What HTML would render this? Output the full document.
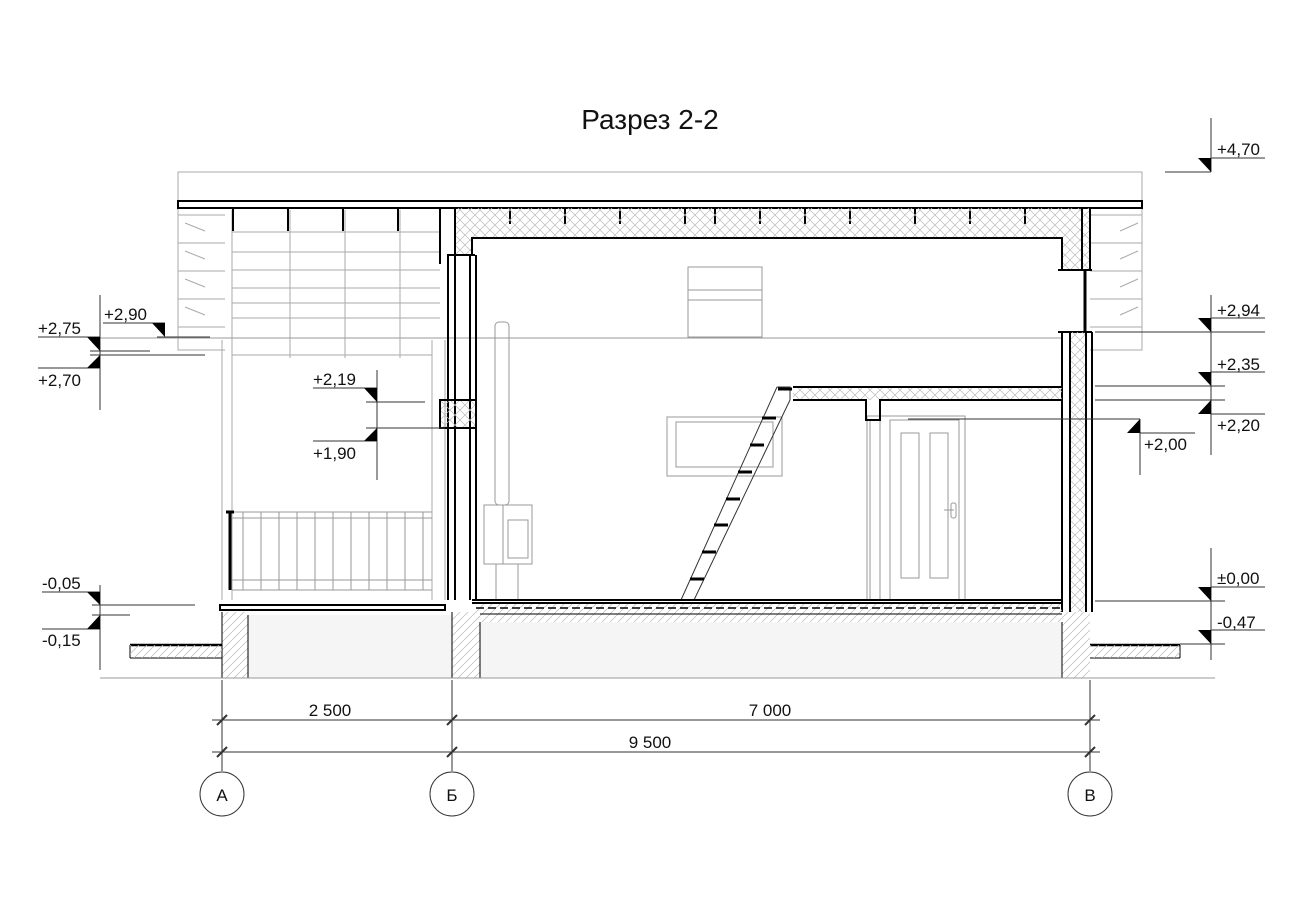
<!DOCTYPE html>
<html><head><meta charset="utf-8"><style>
html,body{margin:0;padding:0;background:#fff;}
svg{display:block}
text{font-family:"Liberation Sans",sans-serif;fill:#111}
</style></head><body>
<svg width="1300" height="919" viewBox="0 0 1300 919" xmlns="http://www.w3.org/2000/svg">
<defs>
<pattern id="ins" width="10" height="10" patternUnits="userSpaceOnUse">
<path d="M0 0L10 10M10 0L0 10" stroke="#bbb" stroke-width="0.7"/>
</pattern>
<pattern id="diag" width="8" height="8" patternUnits="userSpaceOnUse">
<path d="M0 8L8 0" stroke="#bbb" stroke-width="0.7"/>
</pattern>
</defs>

<text x="650" y="129" font-size="28" text-anchor="middle">Разрез 2-2</text>

<g stroke="#aaa" stroke-width="1" fill="none">
<path d="M178 200V172H1142V200"/>
<path d="M178 208V350H225M1142 208V350H1090"/>
<path d="M178 215H225M178 243H225M178 271H225M178 299H225M178 327H225"/>
<path d="M1090 215H1142M1090 243H1142M1090 271H1142M1090 299H1142M1090 327H1142"/>
<path d="M185 223l20 8M185 251l20 8M185 279l20 8M185 307l20 8M1120 231l18-8M1120 259l18-8M1120 287l18-8M1120 315l18-8"/>
<path d="M232 232H440M232 252H440M232 270H440M232 288H440M232 303H440M232 318H440"/>
<path d="M232 210V600M222 340V600M290 210V338M345 210V338M400 210V338"/>
<path d="M432 340V600M445 340V600"/>
<path d="M100 338H1062" stroke="#999"/>
<path d="M232 355H432"/>
<path d="M290 338v20M345 338v20M400 338v20"/>
</g>
<rect x="178" y="201" width="964" height="7" fill="#fff" stroke="#000" stroke-width="2"/>
<g stroke="#000" stroke-width="2" fill="none">
<path d="M233 209v22M288 209v22M343 209v22M398 209v22M440 209v55"/>
<path d="M510 209v15M565 209v15M620 209v15M685 209v15M715 209v15M760 209v15M805 209v15M850 209v15M915 209v15M970 209v15M1025 209v15"/>
</g>
<path d="M447 208H1090V270H1062V238H472V255H455V208Z" fill="url(#ins)"/>
<g stroke="#000" stroke-width="2" fill="none">
<path d="M455 208V255M472 255V238H1062V270"/>
<path d="M1082 208V270M1090 208V270"/>
<path d="M447 255H475M1058 270H1092M1058 332H1092"/>
</g>
<g stroke="#000" stroke-width="2" fill="none">
<path d="M448 255V600M455 255V600M470 255V600M476 255V600"/>
<rect x="440" y="400" width="36" height="28" fill="url(#ins)"/>
</g>
<rect x="1070" y="332" width="16" height="280" fill="url(#ins)"/>
<g stroke="#000" stroke-width="2" fill="none">
<path d="M1062 332V612M1070 332V612M1086 332V612M1092 332V612"/>
<path d="M1085 270V332" stroke-width="3"/>
</g>
<g stroke="#999" fill="none">
<rect x="688" y="267" width="74" height="70"/>
<path d="M688 290H762M688 300H762"/>
<rect x="667" y="417" width="115" height="59"/>
<rect x="676" y="422" width="97" height="45"/>
<rect x="495" y="322" width="14" height="183" rx="4"/>
<rect x="484" y="505" width="48" height="59"/>
<path d="M503 505V564"/>
<rect x="508" y="520" width="20" height="38"/>
<path d="M496 564V600M518 564V600"/>
<rect x="867" y="416" width="98" height="184"/>
<rect x="870" y="420" width="10" height="180"/>
<rect x="890" y="420" width="69" height="180"/>
<rect x="901" y="433" width="18" height="145"/>
<rect x="930" y="433" width="18" height="145"/>
<rect x="951" y="503" width="5" height="15" rx="2"/>
<path d="M944 510H954"/>
<path d="M232 512H432M232 518H432M232 590H432M232 580H432"/>
<path d="M243 512V590M261 512V590M279 512V590M297 512V590M315 512V590M333 512V590M351 512V590M369 512V590M387 512V590M405 512V590M423 512V590"/>
</g>
<path d="M226 512h8M230 512V590" stroke="#000" stroke-width="3" fill="none"/>
<g stroke="#333" fill="none">
<path d="M681 600L777 387M694 600L790 400M777 387H790V400"/>
</g>
<g stroke="#000" stroke-width="3">
<path d="M690 579h14M702 552h14M714 525h14M726 499h14M738 472h14M750 445h14M762 418h14M778 389h14"/>
</g>
<rect x="793" y="387" width="269" height="13" fill="url(#ins)"/>
<g stroke="#000" stroke-width="2" fill="none">
<path d="M793 387H1062M793 400H866V420H880V400H1062"/>
</g>
<rect x="476" y="603" width="586" height="19" fill="url(#diag)"/>
<g stroke="#000" fill="none">
<path d="M472 600H1062M472 603H1062" stroke-width="2"/>
<path d="M476 608H1062" stroke-dasharray="8 4" stroke-width="1.5"/>
<path d="M480 614H1062"/>
</g>
<rect x="480" y="622" width="582" height="56" fill="#f5f5f5"/>
<rect x="452" y="612" width="28" height="66" fill="url(#diag)"/>
<rect x="1062" y="612" width="28" height="66" fill="url(#diag)"/>
<rect x="248" y="615" width="204" height="63" fill="#f5f5f5"/>
<rect x="222" y="612" width="26" height="66" fill="url(#diag)"/>
<g stroke="#000" fill="none" stroke-width="1">
<path d="M480 622V678H1062V622M452 612V678M248 615V678M222 612V678"/>
<rect x="220" y="605" width="225" height="5" stroke-width="2" fill="#fff"/>
<path d="M130 645H222M1090 645H1180" stroke-width="2.5"/>
<path d="M130 658H222M1090 658H1180M130 645V658M1180 645V658"/>
<path d="M100 678H1215" stroke="#999"/>
</g>
<rect x="130" y="645" width="92" height="13" fill="url(#diag)"/>
<rect x="1090" y="645" width="90" height="13" fill="url(#diag)"/>

<g stroke="#333" fill="none">
<path d="M222 680V771M452 680V771M1090 680V771"/>
<path d="M212 720H1100M212 752H1100"/>
<path d="M217 725l10-10M447 725l10-10M1085 725l10-10M217 757l10-10M447 757l10-10M1085 757l10-10" stroke-width="2"/>
<circle cx="222" cy="794" r="22"/>
<circle cx="452" cy="794" r="22"/>
<circle cx="1090" cy="794" r="22"/>
</g>
<g font-size="17" text-anchor="middle">
<text x="330" y="716">2 500</text>
<text x="770" y="716">7 000</text>
<text x="650" y="748">9 500</text>
<text x="222" y="801">А</text>
<text x="452" y="801">Б</text>
<text x="1090" y="801">В</text>
</g>

<g stroke="#333" fill="none">
<path d="M1211 118V172M1165 172H1211M1211 158H1265"/>
<path d="M1211 295V455M1211 620V660"/>
<path d="M1095 332H1265M1211 318H1265"/>
<path d="M1095 386H1225M1211 372H1265"/>
<path d="M1095 400H1225M1211 414H1265"/>
<path d="M1095 601H1225M1211 587H1265"/>
<path d="M1211 630H1265M1211 575V644M1180 644H1225"/>
<path d="M908 419H1140M1140 419V475M1140 433H1195"/>
<path d="M1211 548V601"/>
</g>
<g fill="#000">
<path d="M1198 158H1211V172Z"/>
<path d="M1198 318H1211V332Z"/>
<path d="M1198 372H1211V386Z"/>
<path d="M1198 414H1211V400Z"/>
<path d="M1198 587H1211V601Z"/>
<path d="M1198 630H1211V644Z"/>
<path d="M1127 433H1140V419Z"/>
</g>
<g font-size="17">
<text x="1217" y="155">+4,70</text>
<text x="1217" y="316">+2,94</text>
<text x="1217" y="370">+2,35</text>
<text x="1217" y="431">+2,20</text>
<text x="1144" y="450">+2,00</text>
<text x="1217" y="584">±0,00</text>
<text x="1217" y="628">-0,47</text>
</g>

<g stroke="#333" fill="none">
<path d="M100 295V410M38 337H100M90 351H150M90 355H205M38 368H100"/>
<path d="M103 323H165M157 337H210"/>
<path d="M100 585V670M42 592H100M92 605H195M42 629H100M92 615H130"/>
<path d="M377 370V480M313 388H377M366 402H425M366 428H445M313 441H377"/>
</g>
<g fill="#000">
<path d="M87 337H100V351Z"/>
<path d="M87 368H100V355Z"/>
<path d="M152 323H165V337Z"/>
<path d="M87 592H100V605Z"/>
<path d="M87 629H100V615Z"/>
<path d="M364 388H377V402Z"/>
<path d="M364 441H377V428Z"/>
</g>
<g font-size="17">
<text x="38" y="334">+2,75</text>
<text x="38" y="386">+2,70</text>
<text x="104" y="320">+2,90</text>
<text x="42" y="589">-0,05</text>
<text x="42" y="646">-0,15</text>
<text x="313" y="385">+2,19</text>
<text x="313" y="459">+1,90</text>
</g>
</svg>
</body></html>
